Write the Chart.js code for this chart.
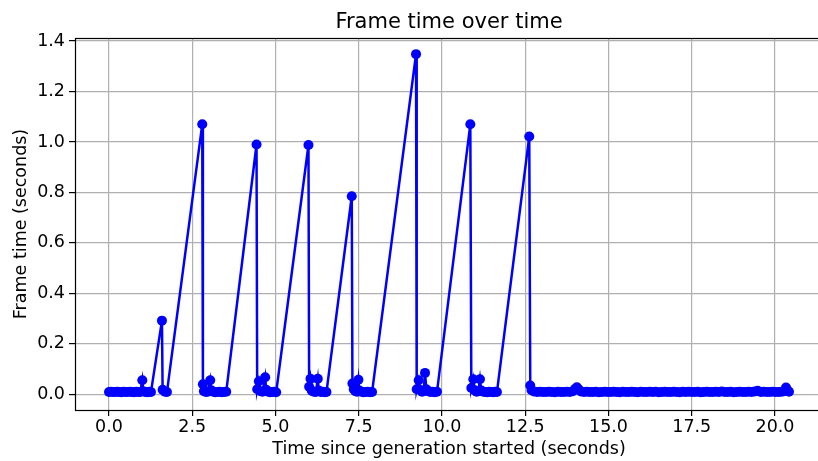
<!DOCTYPE html>
<html>
<head>
<meta charset="utf-8">
<script src="https://cdn.jsdelivr.net/npm/chart.js@4.4.0/dist/chart.umd.min.js"></script>
<style>
    html, body { margin: 0; padding: 0; background: #fff; overflow: hidden; }
    #chartFrames { display: block; }
</style>
</head>
<body>
<canvas id="chartFrames" width="830" height="461"></canvas>
<script>
// time stamps (seconds since start) and frame time of each frame
var times = [
    0.00, 0.06, 0.12, 0.18, 0.25, 0.31, 0.37, 0.44, 0.50, 0.56, 0.63, 0.69, 0.75, 0.82, 0.88, 0.94, 1.00, 1.03, 1.09, 1.15, 1.21, 1.26,
    1.59, 1.61, 1.68, 1.74,
    2.80, 2.82, 2.85, 2.91, 2.97, 3.04, 3.07, 3.13, 3.19, 3.26, 3.32, 3.39, 3.45, 3.52,
    4.43, 4.45, 4.50, 4.55, 4.61, 4.69, 4.72, 4.78, 4.84, 4.90, 4.96, 5.02,
    5.99, 6.01, 6.05, 6.09, 6.15, 6.21, 6.27, 6.30, 6.36, 6.42, 6.48, 6.53,
    7.29, 7.31, 7.35, 7.40, 7.45, 7.49, 7.52, 7.58, 7.64, 7.71, 7.77, 7.84, 7.90,
    9.22, 9.24, 9.30, 9.34, 9.40, 9.45, 9.49, 9.53, 9.59, 9.65, 9.71, 9.78, 9.85,
    10.85, 10.88, 10.94, 10.98, 11.04, 11.09, 11.14, 11.18, 11.24, 11.30, 11.36, 11.42, 11.48, 11.54, 11.60, 11.65,
    12.62, 12.65, 12.69, 12.76, 12.85, 12.94, 13.03, 13.12, 13.21, 13.30, 13.39, 13.48, 13.57, 13.66, 13.75, 13.84, 13.93,
    14.00, 14.05, 14.10, 14.17, 14.26, 14.35, 14.44, 14.53, 14.62, 14.71, 14.80, 14.89, 14.98, 15.07, 15.16, 15.25, 15.34,
    15.43, 15.52, 15.61, 15.70, 15.79, 15.88, 15.97, 16.06, 16.15, 16.24, 16.33, 16.42, 16.51, 16.60, 16.69, 16.78, 16.87,
    16.96, 17.05, 17.14, 17.23, 17.32, 17.41, 17.50, 17.59, 17.68, 17.77, 17.86, 17.95, 18.04, 18.13, 18.22, 18.31, 18.40,
    18.49, 18.58, 18.67, 18.76, 18.85, 18.94, 19.03, 19.12, 19.21, 19.30, 19.39, 19.48, 19.57, 19.66, 19.75, 19.84, 19.93,
    20.02, 20.11, 20.20, 20.27, 20.33, 20.38, 20.42
];
var frameTimes = [
    0.009, 0.010, 0.009, 0.009, 0.010, 0.009, 0.008, 0.010, 0.009, 0.009, 0.010, 0.009, 0.008, 0.010, 0.009, 0.009, 0.056, 0.012, 0.009, 0.008, 0.010, 0.009,
    0.292, 0.018, 0.010, 0.009,
    1.070, 0.040, 0.012, 0.009, 0.010, 0.056, 0.016, 0.010, 0.008, 0.009, 0.010, 0.008, 0.009, 0.010,
    0.990, 0.020, 0.052, 0.012, 0.010, 0.068, 0.018, 0.010, 0.008, 0.009, 0.010, 0.008,
    0.988, 0.030, 0.062, 0.014, 0.010, 0.009, 0.062, 0.015, 0.009, 0.010, 0.008, 0.009,
    0.785, 0.043, 0.020, 0.012, 0.010, 0.058, 0.015, 0.010, 0.008, 0.009, 0.010, 0.008, 0.009,
    1.348, 0.020, 0.056, 0.018, 0.010, 0.012, 0.085, 0.020, 0.012, 0.009, 0.010, 0.008, 0.010,
    1.070, 0.025, 0.060, 0.016, 0.010, 0.012, 0.060, 0.015, 0.010, 0.009, 0.008, 0.010, 0.009, 0.008, 0.010, 0.009,
    1.022, 0.035, 0.016, 0.011, 0.009, 0.010, 0.009, 0.009, 0.010, 0.009, 0.008, 0.010, 0.009, 0.009, 0.010, 0.009, 0.012,
    0.022, 0.028, 0.020, 0.011, 0.009, 0.010, 0.009, 0.009, 0.010, 0.008, 0.009, 0.010, 0.009, 0.009, 0.010, 0.009, 0.008,
    0.010, 0.009, 0.009, 0.010, 0.009, 0.008, 0.010, 0.009, 0.009, 0.010, 0.009, 0.010, 0.008, 0.009, 0.010, 0.009, 0.009,
    0.010, 0.009, 0.008, 0.010, 0.009, 0.010, 0.009, 0.009, 0.010, 0.008, 0.009, 0.010, 0.009, 0.009, 0.010, 0.009, 0.011,
    0.009, 0.009, 0.010, 0.008, 0.009, 0.010, 0.009, 0.009, 0.010, 0.009, 0.011, 0.014, 0.009, 0.010, 0.009, 0.009, 0.010,
    0.009, 0.009, 0.010, 0.012, 0.027, 0.015, 0.010
];
var xTicks = [0, 2.5, 5, 7.5, 10, 12.5, 15, 17.5, 20];
var yTicks = [0, 0.2, 0.4, 0.6, 0.8, 1.0, 1.2, 1.4];

var points = times.map(function (t, i) {
    return {x: t, y: frameTimes[i]};
});

// black box round the plot area, like the axes spines
var spines = {
    id: 'spines',
    afterDraw: function (chart) {
        var a = chart.chartArea;
        var ctx = chart.ctx;
        ctx.save();
        ctx.strokeStyle = '#000';
        ctx.lineWidth = 1.2;
        ctx.strokeRect(Math.round(a.left) + 0.5, Math.round(a.top) + 0.5,
            Math.round(a.right - a.left), Math.round(a.bottom - a.top));
        ctx.restore();
    }
};

Chart.defaults.font.family = 'DejaVu Sans';
Chart.defaults.color = '#000';

var ctx = document.getElementById("chartFrames").getContext("2d");
new Chart(ctx, {
    type: 'line',
    data: {
        datasets: [{
            data: points,
            borderColor: '#0000ff',
            backgroundColor: '#0000ff',
            borderWidth: 2.5,
            pointRadius: 5,
            pointBorderWidth: 0,
            pointHoverRadius: 5,
            tension: 0,
            fill: false
        }]
    },
    options: {
        responsive: false,
        animation: false,
        layout: {padding: {right: 7}},
        plugins: {
            legend: {display: false},
            tooltip: {enabled: false},
            title: {
                display: true,
                text: 'Frame time over time',
                fullSize: false,
                font: {size: 21, weight: 'normal', lineHeight: 1.2},
                padding: {top: 10, bottom: 2.8}
            }
        },
        scales: {
            x: {
                type: 'linear',
                min: -1.021,
                max: 21.441,
                afterFit: function (scale) { scale.height = 51; },
                afterBuildTicks: function (scale) {
                    scale.ticks = xTicks.map(function (v) { return {value: v}; });
                },
                ticks: {
                    font: {size: 17.5},
                    padding: 1,
                    maxRotation: 0,
                    callback: function (v) { return v.toFixed(1); }
                },
                grid: {color: '#b0b0b0', lineWidth: 1.2, tickColor: '#000', tickLength: 6},
                border: {display: false},
                title: {
                    display: true,
                    text: 'Time since generation started (seconds)',
                    font: {size: 17.5, lineHeight: 1.2},
                    padding: {top: 0, bottom: 1.5}
                }
            },
            y: {
                min: -0.062,
                max: 1.412,
                afterFit: function (scale) { scale.width = 75; },
                afterBuildTicks: function (scale) {
                    scale.ticks = yTicks.map(function (v) { return {value: v}; });
                },
                ticks: {
                    font: {size: 17.5},
                    padding: 4,
                    callback: function (v) { return v.toFixed(1); }
                },
                grid: {color: '#b0b0b0', lineWidth: 1.2, tickColor: '#000', tickLength: 6},
                border: {display: false},
                title: {
                    display: true,
                    text: 'Frame time (seconds)',
                    font: {size: 17.5, lineHeight: 1.2},
                    padding: {top: 10.5, bottom: 0}
                }
            }
        }
    },
    plugins: [spines]
});
</script>
</body>
</html>
